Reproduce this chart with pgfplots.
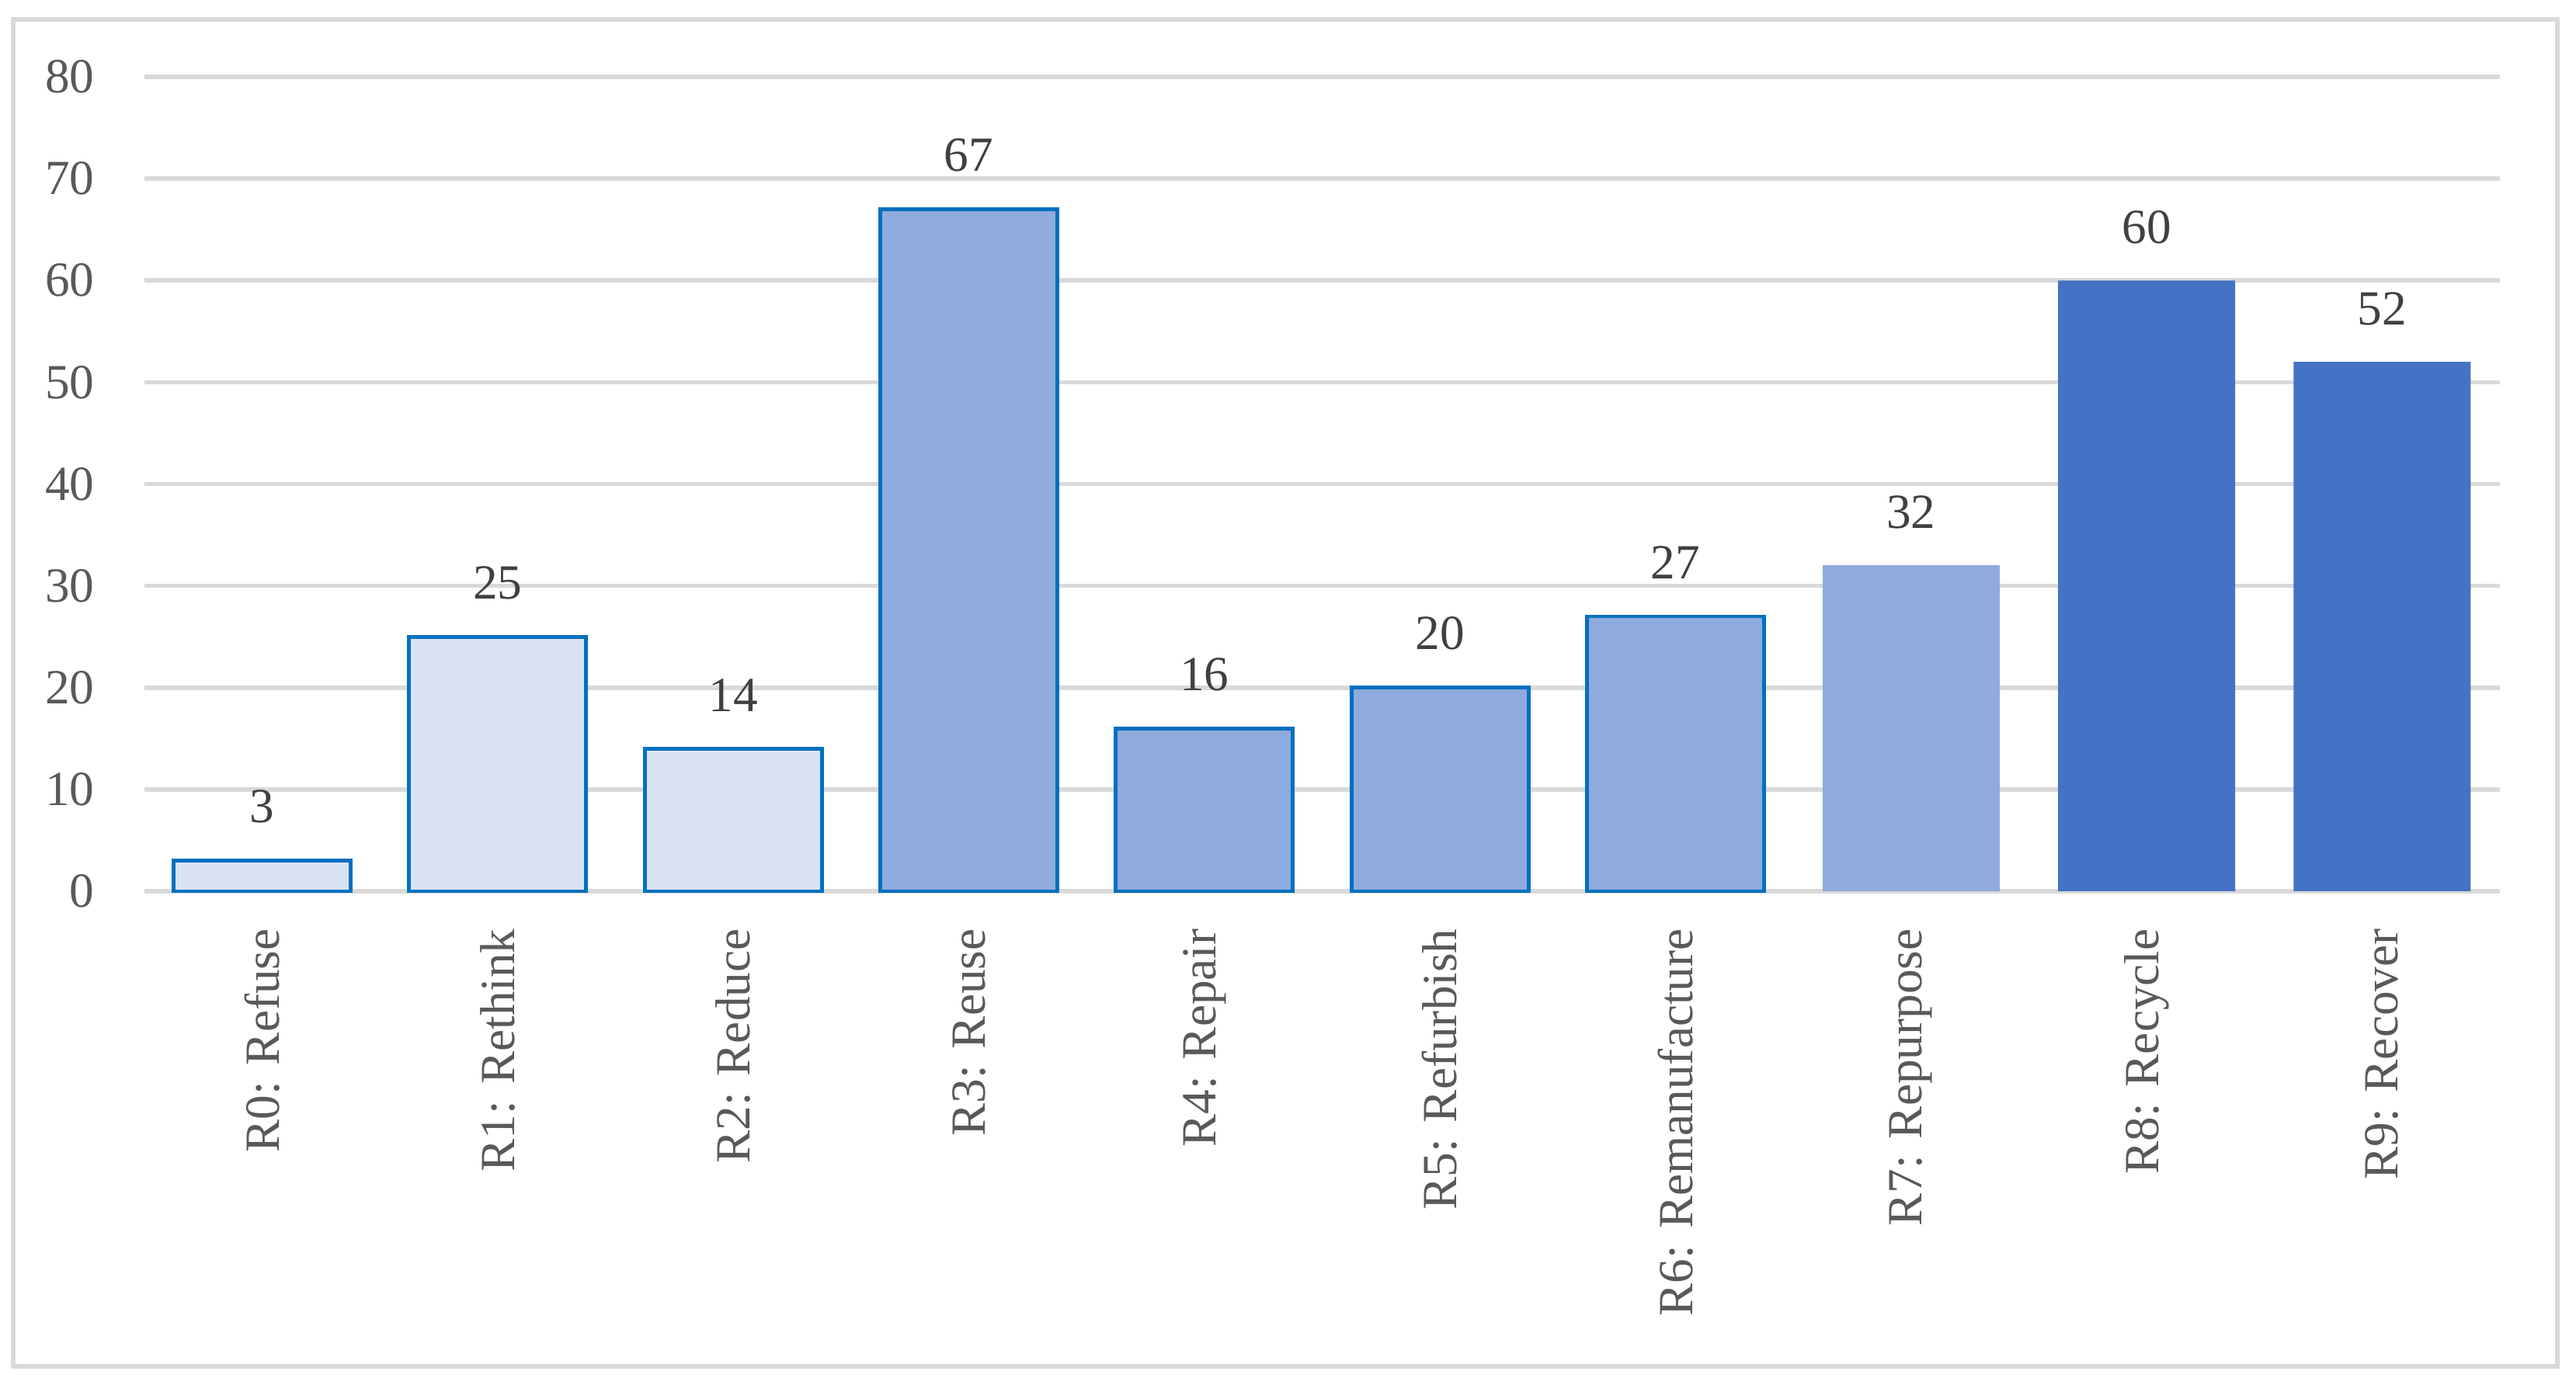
\documentclass[border=0pt]{standalone}
\usepackage{fontspec}
\setmainfont{Liberation Serif}
\usepackage{pgfplots}
\pgfplotsset{compat=1.18}
\definecolor{gridgray}{HTML}{D9D9D9}
\definecolor{txtgray}{HTML}{595959}
\definecolor{lblgray}{HTML}{404040}
\definecolor{lightfill}{HTML}{DAE3F3}
\definecolor{medfill}{HTML}{8FAADC}
\definecolor{darkfill}{HTML}{4472C4}
\definecolor{outline}{HTML}{0070C0}
\begin{document}
\begin{tikzpicture}[x=1cm,y=1cm]
\path[use as bounding box, fill=white] (0,0) rectangle (16.585,8.92);
\draw[gridgray, line width=0.85pt] (0.085,0.12) rectangle (16.465,8.795);
\begin{axis}[
  at={(0.93cm,3.18cm)}, anchor=south west,
  scale only axis, width=15.165cm, height=5.245cm,
  xmin=-0.5, xmax=9.5, ymin=0, ymax=80,
  ytick={0,10,...,80},
  xtick={0,...,9},
  xticklabels={R0: Refuse, R1: Rethink, R2: Reduce, R3: Reuse, R4: Repair, R5: Refurbish, R6: Remanufacture, R7: Repurpose, R8: Recycle, R9: Recover},
  axis line style={draw=none},
  major tick length=0pt,
  ymajorgrids, grid style={gridgray, line width=0.8pt},
  ybar, bar width=1.14cm, bar shift=0pt,
  /pgf/number format/assume math mode=true,
  tick label style={font=\fontsize{9}{11}\selectfont, text=txtgray},
  yticklabel style={anchor=east, inner sep=0pt},
  yticklabel shift=9pt,
  xticklabel style={rotate=90, anchor=east, inner sep=0pt},
  xticklabel shift=6.7pt,
  nodes near coords,
  nodes near coords style={font=\fontsize{9}{11}\selectfont, text=lblgray, inner sep=0pt, anchor=south, yshift=6.5pt},
  clip=false,
]
\addplot[fill=lightfill, draw=outline, line width=0.7pt] coordinates {(0,3) (1,25) (2,14)};
\addplot[fill=medfill, draw=outline, line width=0.7pt] coordinates {(3,67) (4,16) (5,20) (6,27)};
\addplot[fill=medfill, draw=none] coordinates {(7,32)};
\addplot[fill=darkfill, draw=none] coordinates {(8,60) (9,52)};
\end{axis}
\end{tikzpicture}
\end{document}
